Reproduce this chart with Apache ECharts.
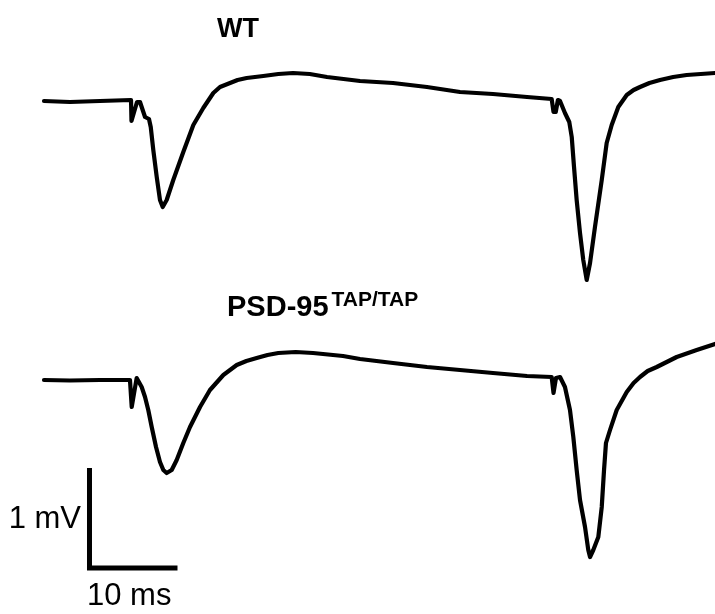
<!DOCTYPE html>
<html>
<head>
<meta charset="utf-8">
<script src="https://cdn.jsdelivr.net/npm/echarts@6/dist/echarts.min.js"></script>
<style>
html,body{margin:0;padding:0;background:#fff;}
#chart{width:715px;height:614px;}
</style>
</head>
<body>
<div id="chart"></div>
<script>
// Time (ms) and field potential (mV)
var wtTime = [0, 2.95, 6.36, 9.89, 9.94, 10.57, 10.91, 11.48, 11.93, 12.13, 12.42, 12.81, 13.18, 13.49, 13.94, 14.69, 15.83, 16.97, 18.10, 19.24, 20.00, 21.14, 22.00, 23.03, 24.92, 26.63, 28.30, 30.20, 32.16, 35.91, 39.66, 43.52, 47.27, 51.02, 54.89, 57.69, 57.90, 58.15, 58.40, 58.64, 59.20, 59.69, 59.97, 60.23, 60.53, 60.91, 61.28, 61.67, 62.05, 62.61, 63.38, 63.94, 64.51, 65.26, 66.22, 67.00, 67.73, 68.80, 70.00, 71.50, 73.03, 76.25];
var wtMv   = [0, -0.01, 0.00, 0.01, -0.20, -0.01, -0.01, -0.16, -0.18, -0.26, -0.49, -0.76, -0.99, -1.06, -0.99, -0.79, -0.51, -0.24, -0.07, 0.08, 0.14, 0.18, 0.21, 0.23, 0.25, 0.27, 0.28, 0.27, 0.24, 0.20, 0.18, 0.14, 0.09, 0.07, 0.04, 0.02, -0.11, -0.11, 0.01, 0.00, -0.12, -0.21, -0.36, -0.66, -0.99, -1.32, -1.59, -1.79, -1.62, -1.26, -0.79, -0.42, -0.24, -0.06, 0.06, 0.11, 0.14, 0.18, 0.21, 0.24, 0.26, 0.28];

var tapTime = [0, 2.95, 6.36, 9.77, 9.97, 10.53, 11.10, 11.48, 11.85, 12.24, 12.73, 13.18, 13.56, 13.94, 14.51, 15.08, 15.83, 16.59, 17.73, 18.86, 20.38, 21.90, 23.00, 24.17, 25.40, 26.63, 28.60, 30.57, 33.98, 35.91, 39.66, 43.52, 47.27, 51.02, 54.89, 57.69, 57.90, 58.18, 58.64, 59.20, 59.77, 60.15, 60.53, 60.91, 61.48, 61.85, 62.05, 62.42, 62.99, 63.38, 63.64, 63.86, 64.32, 65.08, 66.22, 67.00, 67.73, 68.60, 69.63, 71.90, 74.17, 76.25];
var tapMv   = [0, -0.005, 0, 0, -0.27, 0.02, -0.07, -0.17, -0.30, -0.47, -0.67, -0.82, -0.90, -0.93, -0.90, -0.80, -0.63, -0.47, -0.27, -0.10, 0.05, 0.15, 0.19, 0.22, 0.25, 0.27, 0.28, 0.27, 0.24, 0.21, 0.17, 0.13, 0.10, 0.07, 0.04, 0.03, -0.13, 0.02, 0.03, -0.07, -0.30, -0.57, -0.90, -1.20, -1.47, -1.70, -1.77, -1.70, -1.57, -1.27, -0.90, -0.63, -0.50, -0.30, -0.12, -0.03, 0.03, 0.09, 0.13, 0.23, 0.30, 0.36];

// Scale bar: 10 ms by 1 mV
var scaleOrigin = [5.17, -1.88];
var scaleMs = 10;
var scaleMv = 1;

var traceTitles = ['WT', 'PSD-95', 'TAP/TAP'];
var scaleLabels = ['1 mV', '10 ms'];

function zip(a, b) { return a.map(function (v, i) { return [v, b[i]]; }); }

var chart = echarts.init(document.getElementById('chart'), null, {renderer: 'canvas'});
var FONT = '"Liberation Sans", Arial, Helvetica, sans-serif';
var axX = function (gi) { return {type: 'value', gridIndex: gi, min: 0, max: 76.25, show: false}; };
var traceStyle = {color: '#000', width: 4.2, join: 'round', cap: 'round'};

chart.setOption({
  animation: false,
  backgroundColor: '#ffffff',
  grid: [
    {left: 44, width: 671, top: 51, height: 250},
    {left: 44, width: 671, top: 330, height: 270}
  ],
  xAxis: [axX(0), axX(1)],
  yAxis: [
    {type: 'value', gridIndex: 0, min: -2, max: 0.5, show: false},
    {type: 'value', gridIndex: 1, min: -2.2, max: 0.5, show: false}
  ],
  series: [
    {type: 'line', xAxisIndex: 0, yAxisIndex: 0, data: zip(wtTime, wtMv), showSymbol: false, symbol: 'none', clip: false,
      lineStyle: traceStyle},
    {type: 'line', xAxisIndex: 1, yAxisIndex: 1, data: zip(tapTime, tapMv), showSymbol: false, symbol: 'none', clip: false,
      lineStyle: traceStyle},
    {type: 'line', xAxisIndex: 1, yAxisIndex: 1, showSymbol: false, symbol: 'none', clip: false,
      data: [[scaleOrigin[0], scaleOrigin[1] + scaleMv], scaleOrigin, [scaleOrigin[0] + scaleMs, scaleOrigin[1]]],
      lineStyle: {color: '#000', width: 5, join: 'miter', cap: 'butt'}}
  ],
  graphic: [
    {type: 'text', left: 217, top: 16, style: {text: traceTitles[0], font: 'bold 27px ' + FONT, fill: '#000'}},
    {type: 'text', left: 227, top: 290, style: {
      text: '{a|' + traceTitles[1] + '}{b|' + traceTitles[2] + '}',
      fill: '#000',
      rich: {
        a: {fontSize: 29, fontWeight: 'bold', fontFamily: FONT, color: '#000', verticalAlign: 'bottom'},
        b: {fontSize: 21, fontWeight: 'bold', fontFamily: FONT, color: '#000', verticalAlign: 'bottom', padding: [0, 0, 11, 3]}
      }
    }},
    {type: 'text', right: 715 - 81, top: 504, style: {text: scaleLabels[0], font: '31px ' + FONT, fill: '#000'}},
    {type: 'text', left: 87, top: 581, style: {text: scaleLabels[1], font: '31px ' + FONT, fill: '#000'}}
  ]
});
</script>
</body>
</html>
